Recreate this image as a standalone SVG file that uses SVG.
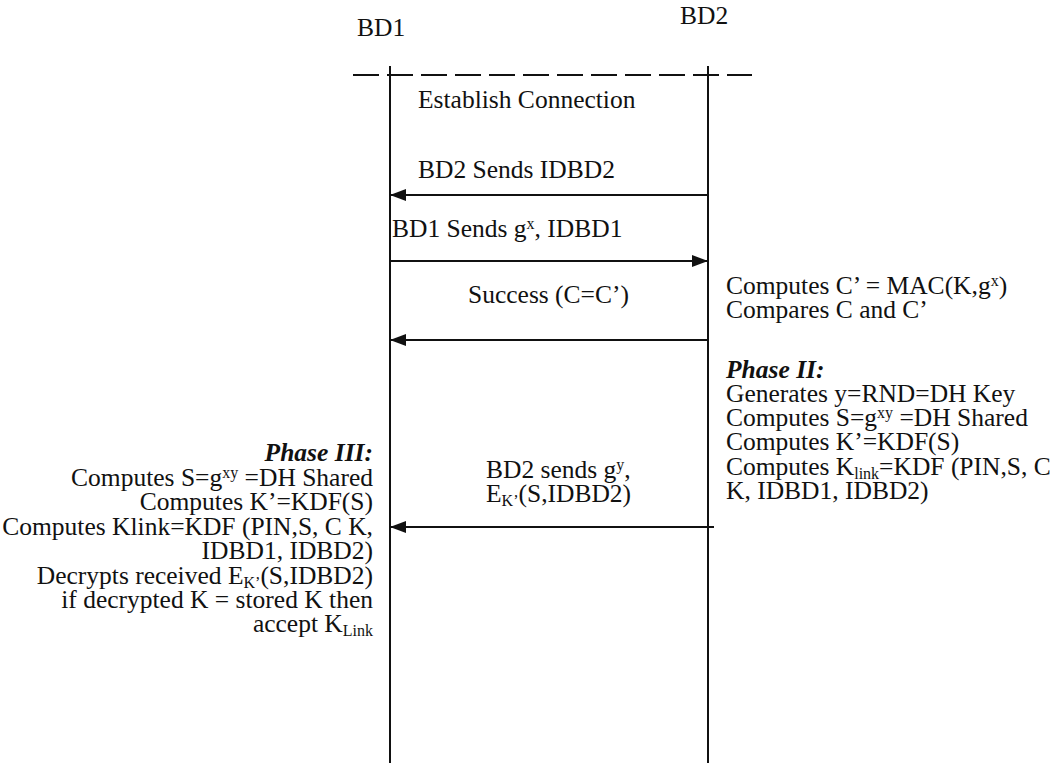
<svg xmlns="http://www.w3.org/2000/svg" width="1054" height="763" viewBox="0 0 1054 763">
<style>
text{font-family:'Liberation Serif','Times New Roman',Tinos,'DejaVu Serif',serif;font-size:25.5px;fill:#111}
.r{text-anchor:end}
.b{font-weight:bold;font-style:italic}
.sup{font-size:16px;baseline-shift:8px}
.sub{font-size:16px;baseline-shift:-4px}
.life{stroke:#111;stroke-width:2;fill:none}
.msg{stroke:#111;stroke-width:2;fill:none;marker-end:url(#ah)}
</style>
<defs>
<marker id="ah" viewBox="0 0 16 12" refX="15" refY="6" markerWidth="16" markerHeight="12" markerUnits="userSpaceOnUse" orient="auto">
<path d="M0,0 L16,6 L0,12 Z" fill="#111"/>
</marker>
</defs>
<rect width="1054" height="763" fill="#fff"/>
<g id="BD1">
<text x="357" y="36">BD1</text>
<line class="life" x1="390" y1="66" x2="390" y2="763"/>
</g>
<g id="BD2">
<text x="680" y="24">BD2</text>
<line class="life" x1="708" y1="66" x2="708" y2="763"/>
</g>
<g id="connectors">
<line x1="353" y1="75" x2="752" y2="75" stroke="#111" stroke-width="2" stroke-dasharray="26 8"/>
<line class="msg" x1="708" y1="195" x2="391" y2="195"/>
<line class="msg" x1="390" y1="261" x2="707" y2="261"/>
<line class="msg" x1="708" y1="340" x2="391" y2="340"/>
<line class="msg" x1="714" y1="527" x2="391" y2="527"/>
</g>
<g id="labels">
<text x="418" y="108">Establish Connection</text>
<text x="418" y="178">BD2 Sends IDBD2</text>
<text x="392" y="237">BD1 Sends g<tspan class="sup">x</tspan>, IDBD1</text>
<text x="468" y="303">Success (C=C’)</text>
<text x="486" y="478">BD2 sends g<tspan class="sup">y</tspan>,</text>
<text x="486" y="502">E<tspan class="sub">K’</tspan>(S,IDBD2)</text>
</g>
<g id="BD2-notes">
<text x="726" y="294">Computes C’ = MAC(K,g<tspan class="sup">x</tspan>)</text>
<text x="726" y="318">Compares C and C’</text>
<text x="726" y="378" class="b">Phase II:</text>
<text x="726" y="402">Generates y=RND=DH Key</text>
<text x="726" y="426">Computes S=g<tspan class="sup">xy</tspan> =DH Shared</text>
<text x="726" y="450">Computes K’=KDF(S)</text>
<text x="726" y="475">Computes K<tspan class="sub">link</tspan>=KDF (PIN,S, C</text>
<text x="726" y="499">K, IDBD1, IDBD2)</text>
</g>
<g id="BD1-notes">
<text x="373" y="461" class="r b">Phase III:</text>
<text x="373" y="486" class="r">Computes S=g<tspan class="sup">xy</tspan> =DH Shared</text>
<text x="373" y="510" class="r">Computes K’=KDF(S)</text>
<text x="373" y="535" class="r">Computes Klink=KDF (PIN,S, C K,</text>
<text x="373" y="559" class="r">IDBD1, IDBD2)</text>
<text x="373" y="584" class="r">Decrypts received E<tspan class="sub">K’</tspan>(S,IDBD2)</text>
<text x="373" y="608" class="r">if decrypted K = stored K then</text>
<text x="373" y="632" class="r">accept K<tspan class="sub">Link</tspan></text>
</g>
</svg>
